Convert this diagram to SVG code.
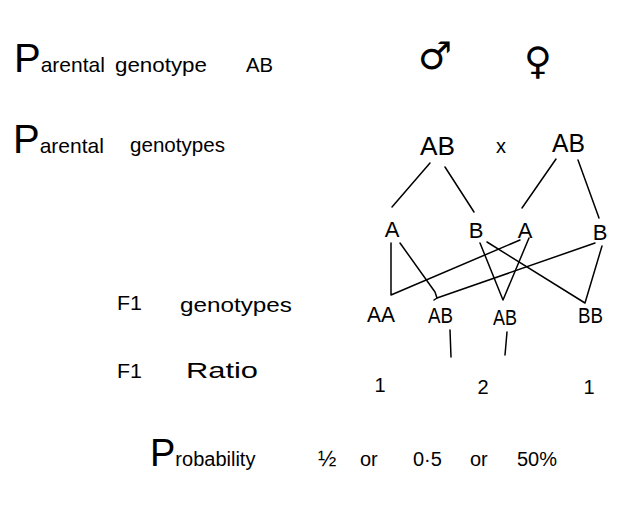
<svg xmlns="http://www.w3.org/2000/svg" width="621" height="508" viewBox="0 0 621 508">
<style>
text{font-family:"Liberation Sans",Arial,sans-serif;fill:#000;}
.lbl{font-size:21px;}
.big{font-size:40px;}
.g{font-size:22px;}
.sym{font-family:"DejaVu Sans",sans-serif;font-size:38px;}
#connectors line,#connectors polyline{stroke:#000;stroke-width:1.5;fill:none;stroke-linecap:round;stroke-linejoin:round;}
</style>
<rect width="621" height="508" fill="#fff"/>
<g id="title1">
<text x="14" y="72" class="lbl"><tspan class="big">P</tspan>arental</text>
<text x="115" y="72" class="lbl" textLength="92" lengthAdjust="spacingAndGlyphs">genotype</text>
<text x="246" y="72" class="lbl" textLength="27" lengthAdjust="spacingAndGlyphs">AB</text>
</g>
<g id="male"><text x="418" y="69" class="sym">♂</text></g>
<g id="female"><text x="524" y="74" class="sym">♀</text></g>
<g id="title2">
<text x="13" y="153" class="lbl"><tspan class="big">P</tspan>arental</text>
<text x="130" y="152" class="lbl" textLength="95" lengthAdjust="spacingAndGlyphs">genotypes</text>
</g>
<g id="parent1"><text x="420" y="155" style="font-size:26px" textLength="35" lengthAdjust="spacingAndGlyphs">AB</text></g>
<g id="cross"><text x="496" y="153" style="font-size:20px">x</text></g>
<g id="parent2"><text x="552" y="152" style="font-size:26px" textLength="33" lengthAdjust="spacingAndGlyphs">AB</text></g>
<g id="gA1"><text x="392" y="237" class="g" text-anchor="middle">A</text></g>
<g id="gB1"><text x="476" y="238" class="g" text-anchor="middle">B</text></g>
<g id="gA2"><text x="525" y="238" class="g" text-anchor="middle">A</text></g>
<g id="gB2"><text x="600" y="240" class="g" text-anchor="middle">B</text></g>
<g id="f1label"><text x="117" y="310" class="lbl" textLength="25" lengthAdjust="spacingAndGlyphs">F1</text>
<text x="180" y="312" class="lbl" textLength="112" lengthAdjust="spacingAndGlyphs">genotypes</text></g>
<g id="AA"><text x="367" y="322" class="g" textLength="28" lengthAdjust="spacingAndGlyphs">AA</text></g>
<g id="AB1"><text x="428" y="323" class="g" textLength="25" lengthAdjust="spacingAndGlyphs">AB</text></g>
<g id="AB2"><text x="493" y="325" class="g" textLength="24" lengthAdjust="spacingAndGlyphs">AB</text></g>
<g id="BB"><text x="578" y="323" class="g" textLength="25" lengthAdjust="spacingAndGlyphs">BB</text></g>
<g id="ratiolabel"><text x="117" y="378" class="lbl" textLength="25" lengthAdjust="spacingAndGlyphs">F1</text>
<text x="186" y="378" style="font-size:22px" textLength="72" lengthAdjust="spacingAndGlyphs">Ratio</text></g>
<g id="r1"><text x="380" y="392" style="font-size:20px" text-anchor="middle">1</text></g>
<g id="r2"><text x="483" y="394" style="font-size:20px" text-anchor="middle">2</text></g>
<g id="r3"><text x="589" y="394" style="font-size:20px" text-anchor="middle">1</text></g>
<g id="probability"><text y="466" style="font-size:20px"><tspan x="150"><tspan style="font-size:38px">P</tspan>robability</tspan><tspan x="318" style="font-size:22px">½</tspan><tspan x="360">or</tspan><tspan x="413">0·5</tspan><tspan x="470">or</tspan><tspan x="517">50%</tspan></text></g>
<g id="connectors">
<line x1="430" y1="163" x2="392" y2="207"/>
<line x1="445" y1="167" x2="474" y2="212"/>
<line x1="556" y1="159" x2="522" y2="208"/>
<line x1="578" y1="160" x2="599" y2="218"/>
<polyline points="391,243 391,295 520,240"/>
<polyline points="400,243 435,292 437,298 434,300"/>
<line x1="437" y1="298" x2="595" y2="243"/>
<polyline points="480,243 503,300 529,238"/>
<polyline points="487,242 585,303 602,246"/>
<line x1="450" y1="330" x2="451" y2="357"/>
<line x1="507" y1="332" x2="505" y2="355"/>
</g>
</svg>
